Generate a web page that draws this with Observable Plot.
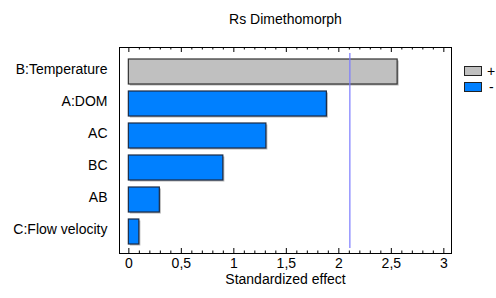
<!DOCTYPE html>
<html>
<head>
<meta charset="utf-8">
<script src="https://cdn.jsdelivr.net/npm/d3@7"></script>
<script src="https://cdn.jsdelivr.net/npm/@observablehq/plot@0.6"></script>
<style>
  html, body { margin: 0; padding: 0; background: #fff; }
  #wrap { position: relative; width: 496px; height: 298px; font-family: "Liberation Sans", Arial, sans-serif; }
  .sw { position: absolute; width: 18px; height: 10px; border: 1px solid #222; box-sizing: border-box; }
  .lt { position: absolute; font-size: 14px; color: #000; line-height: 14px; }
</style>
</head>
<body>
<div id="wrap"></div>
<script>
const title = "Rs Dimethomorph";
const xLabel = "Standardized effect";
const terms = ["B:Temperature", "A:DOM", "AC", "BC", "AB", "C:Flow velocity"];
const effects = [2.56, 1.886, 1.31, 0.90, 0.295, 0.10];
const signs = ["+", "-", "-", "-", "-", "-"];
const criticalValue = 2.105;
const majorTicks = [0, 0.5, 1, 1.5, 2, 2.5, 3];
const minorTicks = d3.range(0, 31).map(i => i / 10).filter(v => Math.abs(v * 2 - Math.round(v * 2)) > 1e-9);
const legendSigns = ["+", "-"];
const signColors = {"+": "#c0c0c0", "-": "#0080ff"};

const data = terms.map((t, i) => ({term: t, effect: effects[i], sign: signs[i]}));
const fmt = d => String(d).replace(".", ",");

const chart = Plot.plot({
  width: 496,
  height: 298,
  marginTop: 47,
  marginBottom: 45,
  marginLeft: 119,
  marginRight: 45,
  style: {fontFamily: "Liberation Sans, Arial, sans-serif", fontSize: "14px", background: "#fff", color: "#000"},
  x: {domain: [-0.089, 3.073]},
  y: {domain: terms, paddingInner: 0.21, paddingOuter: 0.25, align: 0.6},
  marks: [
    Plot.frame({stroke: "#000", strokeWidth: 1}),
    // drop shadow
    Plot.barX(data, {x: "effect", y: "term", fill: "#b4b4b4", dx: 1.5, dy: 1.5}),
    Plot.barX(data, {x: "effect", y: "term", fill: d => signColors[d.sign], stroke: d => d.sign === "+" ? "#333" : "#1b2b45", strokeWidth: 1.2}),
    Plot.ruleX([criticalValue], {stroke: "#7a7aff", strokeWidth: 1.2, insetTop: 6, insetBottom: 5}),
    // inward ticks top & bottom
    Plot.tickX(majorTicks, {x: d => d, stroke: "#000", insetBottom: 206 - 5}),
    Plot.tickX(majorTicks, {x: d => d, stroke: "#000", insetTop: 206 - 5}),
    Plot.tickX(minorTicks, {x: d => d, stroke: "#000", insetBottom: 206 - 2.5}),
    Plot.tickX(minorTicks, {x: d => d, stroke: "#000", insetTop: 206 - 2.5}),
    Plot.axisX(majorTicks, {anchor: "bottom", tickSize: 0, tickPadding: 5, tickFormat: fmt, fontSize: 14, label: null}),
    Plot.axisY({anchor: "left", tickSize: 0, tickPadding: 12, fontSize: 14, dy: -2, label: null}),
    Plot.text([xLabel], {frameAnchor: "bottom", dy: 26, text: d => d, fontSize: 14, lineAnchor: "middle"}),
    Plot.text([title], {frameAnchor: "top", dy: -28, text: d => d, fontSize: 14, lineAnchor: "middle"})
  ]
});

const wrap = document.getElementById("wrap");
wrap.appendChild(chart);
chart.style.position = "absolute";
chart.style.left = "0px";
chart.style.top = "0px";

legendSigns.forEach((s, i) => {
  const sw = document.createElement("div");
  sw.className = "sw";
  sw.style.left = "464px";
  sw.style.top = (66 + i * 16) + "px";
  sw.style.background = signColors[s];
  wrap.appendChild(sw);
  const t = document.createElement("div");
  t.className = "lt";
  t.textContent = s;
  t.style.left = (s === "+" ? 487 : 489) + "px";
  t.style.top = (64 + i * 16) + "px";
  wrap.appendChild(t);
});
</script>
</body>
</html>
